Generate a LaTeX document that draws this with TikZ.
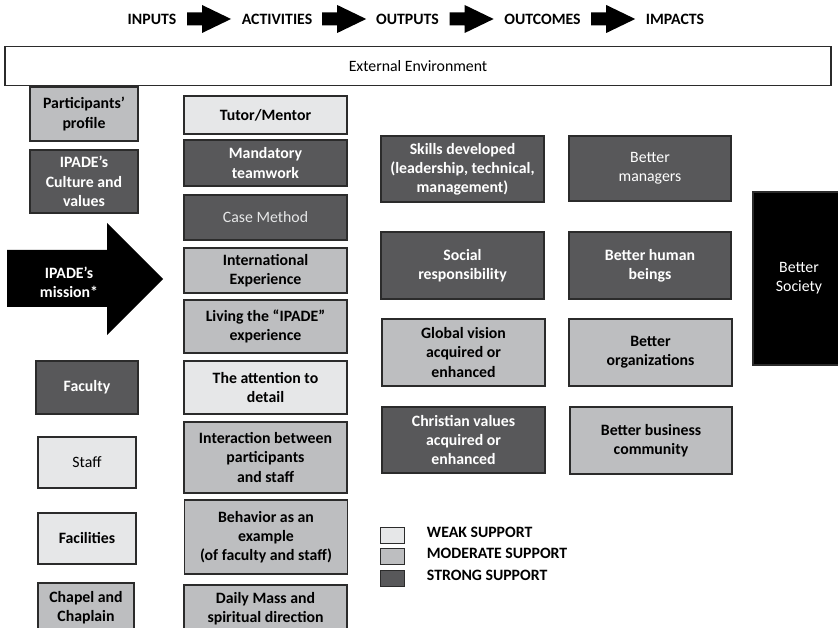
\documentclass[tikz,border=0pt]{standalone}
\usepackage{fontspec}
\setmainfont{Carlito}
\usetikzlibrary{positioning,calc}
\definecolor{weakfill}{HTML}{E6E7E8}
\definecolor{modfill}{HTML}{BDBEC0}
\definecolor{strongfill}{HTML}{58585A}
\definecolor{boxline}{HTML}{2B2B2B}

\begin{document}
\begin{tikzpicture}[x=1pt, y=-1pt,
  head/.style={font=\fontsize{15.8}{19.2}\selectfont\bfseries},
  box/.style={draw=boxline, line width=1.1pt, align=center, inner sep=1pt,
    font=\fontsize{15.8}{19.2}\selectfont\bfseries},
  normalweight/.style={font=\fontsize{15.8}{19.2}\selectfont},
  weak/.style={box, fill=weakfill},
  moderate/.style={box, fill=modfill},
  strong/.style={box, fill=strongfill, text=white}]

  \useasboundingbox (0,0) rectangle (838,628);

  % Header
  \node[head] (inputs) at (152,19) {INPUTS};
  \node[head] (activities) at (277,19) {ACTIVITIES};
  \node[head] (outputs) at (407.5,19) {OUTPUTS};
  \node[head] (outcomes) at (542.5,19) {OUTCOMES};
  \node[head] (impacts) at (675,19) {IMPACTS};

  \foreach \a/\b in {inputs/activities, activities/outputs, outputs/outcomes, outcomes/impacts}
    \fill ($(\a.east)!0.5!(\b.west)+(-22,-6.5)$) -- ++(15,0) -- ++(0,-7.5) -- ++(29,14)
      -- ++(-29,14) -- ++(0,-7.5) -- ++(-15,0) -- cycle;

  \node[box, normalweight, minimum width=826pt, minimum height=39pt] (environment) at (418,66) {External Environment};

  % Inputs
  \node[moderate, minimum width=108pt, minimum height=54pt] (profile) at (84,114) {Participants'\\profile};
  \node[strong, minimum width=108pt, minimum height=63pt] (culture) at (84,181.5) {IPADE's\\Culture and\\values};
  \fill (7,250) -- (107,250) -- (107,223) -- (163,279) -- (107,335) -- (107,307) -- (7,307) -- cycle;
  \node[head, text=white, align=center] (mission) at (69,282) {IPADE's\\mission*};
  \node[strong, minimum width=102pt, minimum height=53pt] (faculty) at (87,387.5) {Faculty};
  \node[weak, normalweight, minimum width=98pt, minimum height=51pt] (staff) at (87,462.5) {Staff};
  \node[weak, minimum width=98pt, minimum height=51pt] (facilities) at (87,538.5) {Facilities};
  \node[moderate, minimum width=96pt, minimum height=50pt] (chapel) at (86,608) {Chapel and\\Chaplain};

  % Activities
  \node[weak, minimum width=163pt, minimum height=38pt] (tutor) at (265.5,115) {Tutor/Mentor};
  \node[strong, minimum width=163pt, minimum height=46pt] (teamwork) at (265.5,163) {Mandatory\\teamwork};
  \node[strong, normalweight, text=weakfill, minimum width=163pt, minimum height=45pt] (casemethod) at (265.5,217.5) {Case Method};
  \node[moderate, minimum width=163pt, minimum height=45pt] (international) at (265.5,270.5) {International\\Experience};
  \node[moderate, minimum width=163pt, minimum height=53pt] (living) at (265.5,326.5) {Living the ``IPADE''\\experience};
  \node[weak, minimum width=163pt, minimum height=53pt] (attention) at (265.5,387.5) {The attention to\\detail};
  \node[moderate, minimum width=163pt, minimum height=71pt] (interaction) at (265.5,457.5) {Interaction between\\participants\\and staff};
  \node[moderate, minimum width=163pt, minimum height=74pt] (behavior) at (266,537) {Behavior as an\\example\\(of faculty and staff)};
  \node[moderate, minimum width=163pt, minimum height=48pt] (dailymass) at (265.5,609) {Daily Mass and\\spiritual direction};

  % Outputs
  \node[strong, minimum width=163pt, minimum height=66pt] (skills) at (462.5,169) {Skills developed\\(leadership, technical,\\management)};
  \node[strong, minimum width=163pt, minimum height=67pt] (social) at (462.5,265.5) {Social\\responsibility};
  \node[moderate, minimum width=163pt, minimum height=67pt] (global) at (463.5,352.5) {Global vision\\acquired or\\enhanced};
  \node[strong, minimum width=163pt, minimum height=66pt] (christian) at (463.5,440) {Christian values\\acquired or\\enhanced};

  % Outcomes
  \node[strong, normalweight, minimum width=162pt, minimum height=65pt] (managers) at (650,168.5) {Better\\managers};
  \node[strong, minimum width=162pt, minimum height=67pt] (humanbeings) at (650,265.5) {Better human\\beings};
  \node[moderate, minimum width=163pt, minimum height=67pt] (organizations) at (650.5,352.5) {Better\\organizations};
  \node[moderate, minimum width=162pt, minimum height=67pt] (business) at (651,440.5) {Better business\\community};

  % Impacts
  \node[box, normalweight, fill=black, text=white, minimum width=92pt, minimum height=173pt] (society) at (799,278.5) {Better\\Society};

  % Legend
  \node[weak, line width=0.8pt, minimum width=24pt, minimum height=16pt] (lgweak) at (392,535) {};
  \node[moderate, line width=0.8pt, minimum width=24pt, minimum height=16pt] (lgmoderate) at (392,556.5) {};
  \node[strong, line width=0.8pt, minimum width=24pt, minimum height=16pt] (lgstrong) at (392,578.5) {};
  \node[head, anchor=west, right=19pt of lgweak, yshift=3pt] (lgweaktext) {WEAK SUPPORT};
  \node[head, anchor=west, right=19pt of lgmoderate, yshift=3pt] (lgmoderatetext) {MODERATE SUPPORT};
  \node[head, anchor=west, right=19pt of lgstrong, yshift=3pt] (lgstrongtext) {STRONG SUPPORT};
\end{tikzpicture}
\end{document}
